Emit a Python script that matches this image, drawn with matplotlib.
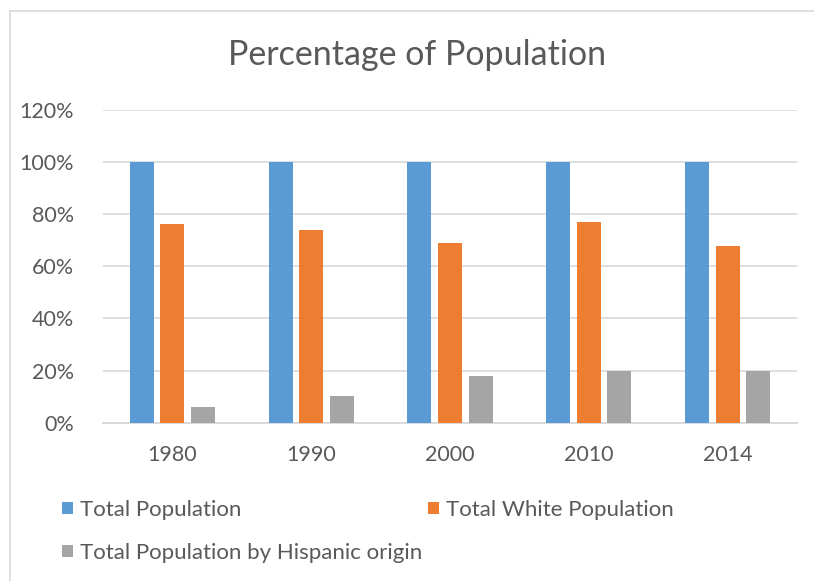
import numpy as np
import matplotlib.pyplot as plt
from matplotlib.ticker import PercentFormatter
from matplotlib.lines import Line2D

years = ['1980', '1990', '2000', '2010', '2014']
total_pop = [100, 100, 100, 100, 100]
white_pop = [76.1, 74.1, 68.8, 76.9, 67.9]
hispanic_pop = [6.1, 10.3, 17.8, 19.7, 19.7]

series_names = ['Total Population', 'Total White Population',
                'Total Population by Hispanic origin']
colors = ['#5B9BD5', '#ED7D31', '#A5A5A5']
text_color = '#595959'
grid_color = '#D9D9D9'

plt.rcParams['font.family'] = ['Lato', 'DejaVu Sans']

fig = plt.figure(figsize=(8.14, 5.81), dpi=100)
ax = fig.add_axes([103 / 814, 1 - 422.7 / 581, 694 / 814, (422.7 - 110) / 581])

x = np.arange(len(years))
w = 0.173
step = 0.22
bars = []
for i, (vals, c) in enumerate(zip([total_pop, white_pop, hispanic_pop], colors)):
    bars.append(ax.bar(x + (i - 1) * step, vals, w, color=c, zorder=3))

ax.set_xlim(-0.5, len(years) - 0.5)
ax.set_ylim(0, 120)
ax.set_yticks(np.arange(0, 121, 20))
ax.yaxis.set_major_formatter(PercentFormatter(decimals=0))
ax.set_xticks(x)
ax.set_xticklabels(years)
ax.tick_params(length=0, labelsize=15.5, labelcolor=text_color)
ax.tick_params(axis='y', pad=21)
ax.tick_params(axis='x', pad=16)
ax.grid(axis='y', color=grid_color, linewidth=1.2, zorder=0)
for s in ['top', 'right', 'left']:
    ax.spines[s].set_visible(False)
ax.spines['bottom'].set_color(grid_color)
ax.spines['bottom'].set_linewidth(1.4)

fig.text(417 / 814, 1 - 55 / 581, 'Percentage of Population', ha='center',
         va='center', fontsize=24.5, color=text_color)

# chart border (left and top only visible)
fig.add_artist(Line2D([10 / 814, 10 / 814], [0, 1 - 11 / 581],
                      transform=fig.transFigure, color=grid_color, lw=1.2))
fig.add_artist(Line2D([10 / 814, 1], [1 - 11 / 581, 1 - 11 / 581],
                      transform=fig.transFigure, color=grid_color, lw=1.2))

handles = [bars[0], bars[2], bars[1]]
labels = [series_names[0], series_names[2], series_names[1]]
leg = fig.legend(handles, labels, ncol=2, loc='upper left',
                 bbox_to_anchor=(42 / 814, 1 - 480 / 581), frameon=False,
                 fontsize=16, handlelength=0.5, handleheight=0.5,
                 handletextpad=0.3, columnspacing=0.28, labelspacing=1.03,
                 labelcolor=text_color)

fig.savefig('out.png', dpi=100)
